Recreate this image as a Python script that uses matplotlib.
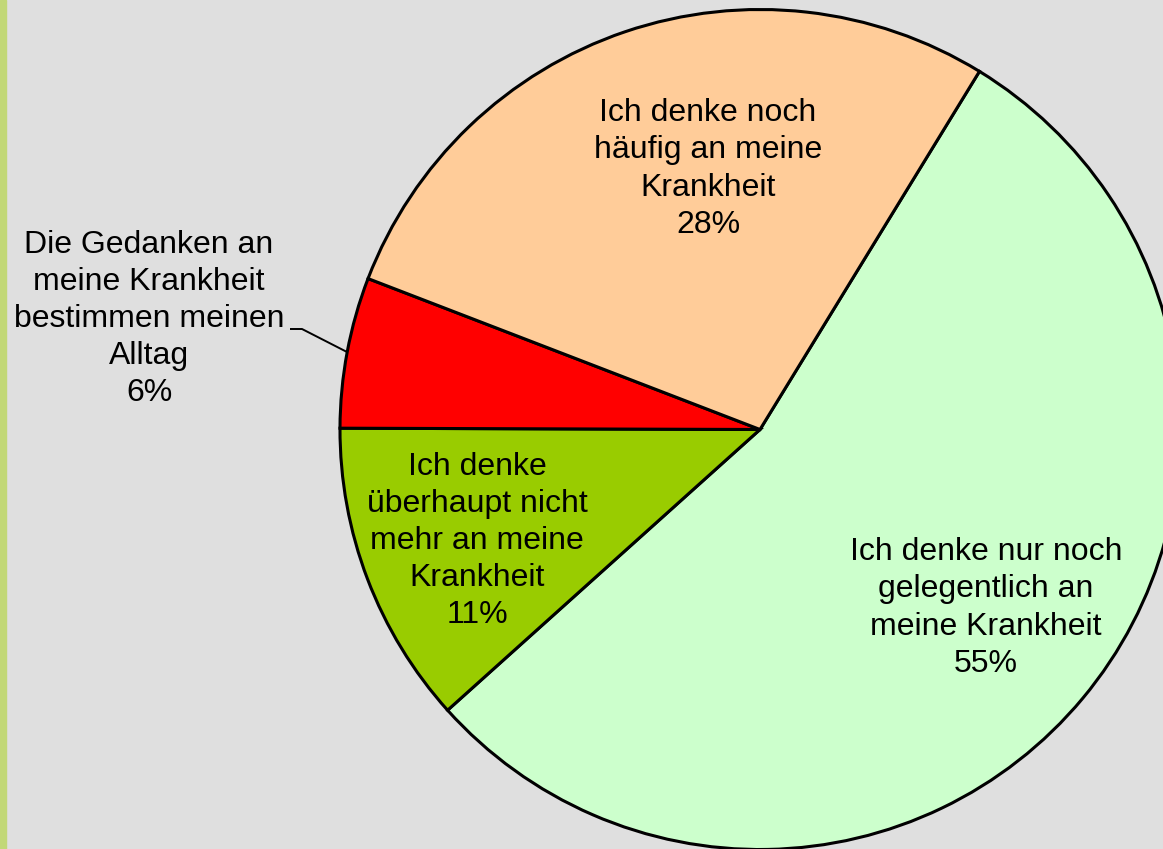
import matplotlib.pyplot as plt
import numpy as np

# Anteile (geschätzt aus den Segmentwinkeln), Reihenfolge im Uhrzeigersinn
labels = ['Ich denke nur noch\ngelegentlich an\nmeine Krankheit',
          'Ich denke\nüberhaupt nicht\nmehr an meine\nKrankheit',
          'Die Gedanken an\nmeine Krankheit\nbestimmen meinen\nAlltag',
          'Ich denke noch\nhäufig an meine\nKrankheit']
values = [54.6, 11.7, 5.8, 27.9]
pct_labels = ['55%', '11%', '6%', '28%']
colors = ['#ccffcc', '#99cc00', '#ff0000', '#ffcc99']

W, H = 1163, 849
fig = plt.figure(figsize=(W / 100, H / 100), dpi=100)
fig.patch.set_facecolor('#dfdfdf')
ax = fig.add_axes([0, 0, 1, 1])

# linker Randstreifen
fig.patches.append(plt.Rectangle((0, 0), 6 / W, 1, transform=fig.transFigure,
                                 color='#c2d877', zorder=0))

center = (760, H - 429.5)
radius = 420
start = 58.5
wedges, _ = ax.pie(values, colors=colors, startangle=start, counterclock=False,
                   center=center, radius=radius, frame=True,
                   wedgeprops=dict(edgecolor='black', linewidth=2.2))
ax.set_xlim(0, W)
ax.set_ylim(0, H)
ax.axis('off')

# Beschriftungspositionen (Pixel, y von oben)
label_pos = [(986, 608), (477, 541), (149, 319), (708, 169)]
font = dict(family=['Liberation Sans', 'DejaVu Sans'], fontsize=23,
            ha='center', va='center', linespacing=1.31)
for lbl, pct, (px, py) in zip(labels, pct_labels, label_pos):
    ax.text(px, H - py, f'{lbl}\n{pct}', **font)

# Führungslinie für das kleine Segment
w = wedges[2]
mid = np.deg2rad((w.theta1 + w.theta2) / 2)
ex = center[0] + radius * np.cos(mid)
ey = center[1] + radius * np.sin(mid)
ax.plot([290, 302, ex], [H - 329, H - 329, ey], color='black', lw=1.4,
        solid_capstyle='butt')

fig.savefig('out.png', dpi=100, facecolor=fig.get_facecolor())
